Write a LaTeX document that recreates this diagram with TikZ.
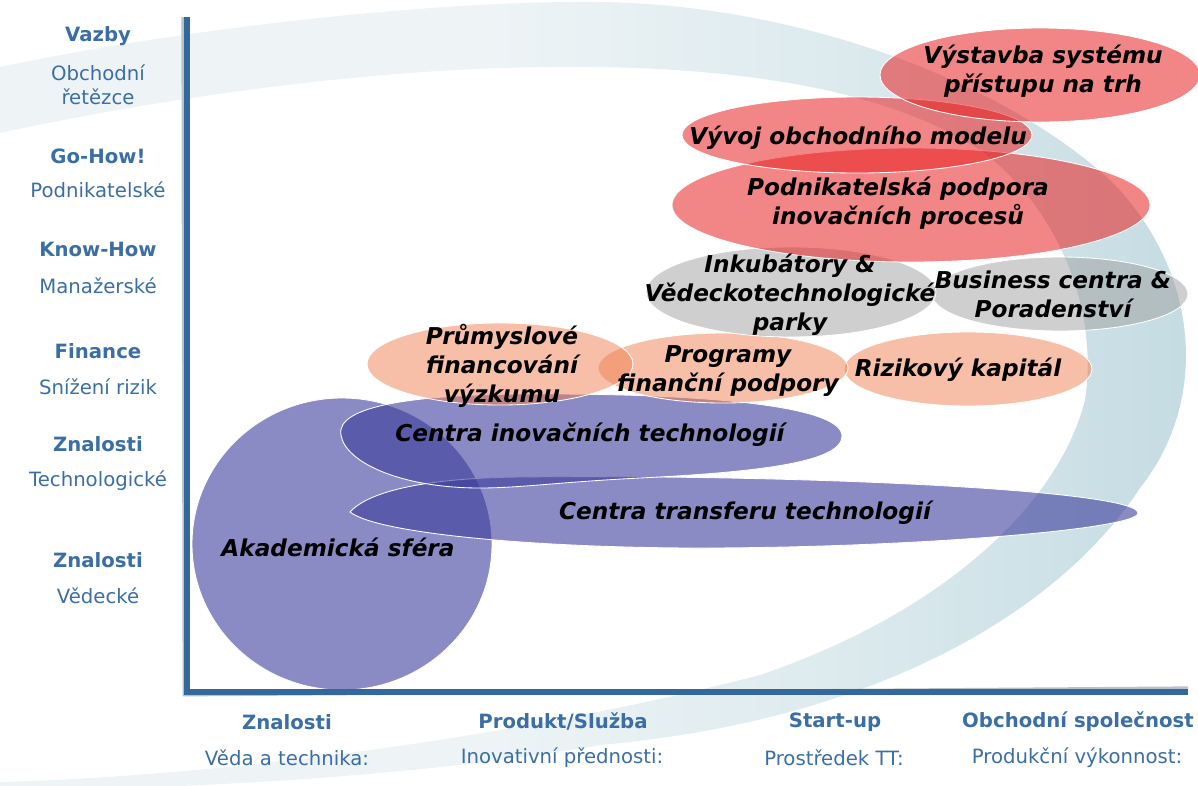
\documentclass[tikz,border=0pt]{standalone}
\usepackage{fontspec}
\setmainfont{DejaVu Sans}
\usetikzlibrary{positioning}
\definecolor{AxisBlue}{HTML}{35689A}
\definecolor{AxisShadow}{HTML}{B8C2CC}
\definecolor{LabelBlue}{HTML}{3A6EA5}
\definecolor{SwooshDark}{HTML}{C3DBE2}
\definecolor{SwooshMid}{HTML}{DCEAEE}
\definecolor{SwooshLight}{HTML}{EEF4F6}
\definecolor{BlobBlue}{HTML}{3C3C9C}
\definecolor{BlobRed}{HTML}{E82020}
\definecolor{BlobPeach}{HTML}{F08050}
\definecolor{BlobGrey}{HTML}{A0A0A0}
\pgfdeclarehorizontalshading{swooshfade}{100bp}{color(0bp)=(SwooshLight); color(25bp)=(SwooshLight); color(45bp)=(SwooshLight); color(60bp)=(SwooshMid); color(75bp)=(SwooshDark); color(100bp)=(SwooshDark)}
\newcommand{\axfont}{\fontsize{14}{17}\selectfont}
\newcommand{\blobfont}{\fontsize{16.5}{20.5}\selectfont\bfseries\itshape}

\begin{document}
\begin{tikzpicture}[x=0.025cm,y=-0.025cm,
 axhead/.style={font=\axfont\bfseries,text=LabelBlue,align=center},
 axsub/.style={font=\axfont,text=LabelBlue,align=center},
 blobtext/.style={font=\blobfont,text=black,align=center},
 blueblob/.style={fill=BlobBlue,fill opacity=0.6,draw=white,line width=0.6pt},
 redblob/.style={fill=BlobRed,fill opacity=0.55,draw=white,line width=0.6pt},
 peachblob/.style={fill=BlobPeach,fill opacity=0.5,draw=white,line width=0.6pt},
 greyblob/.style={fill=BlobGrey,fill opacity=0.5,draw=white,line width=0.6pt},
 axisline/.style={draw=AxisBlue,line width=4.2pt},
 axisshadow/.style={draw=AxisShadow,line width=2pt}]
\useasboundingbox (0,0) rectangle (1198,785);
\shade[shading=swooshfade]
 (0,67) .. controls (200,25) and (450,0) .. (600,2)
 .. controls (800,5) and (1000,80) .. (1110,180)
 .. controls (1200,270) and (1210,400) .. (1140,488)
 .. controls (1060,610) and (880,720) .. (600,745)
 .. controls (400,780) and (150,790) .. (0,790) -- (0,782)
 .. controls (250,775) and (550,730) .. (760,675)
 .. controls (950,610) and (1060,500) .. (1085,400)
 .. controls (1100,300) and (1050,200) .. (980,150)
 .. controls (880,85) and (720,65) .. (550,67)
 .. controls (400,68) and (200,90) .. (0,133) -- cycle;

\path[blueblob] (342,544) ellipse (150 and 146);
\path[blueblob] (350,512) .. controls (370,490) and (430,478) .. (520,477)
 .. controls (800,474) and (1138,490) .. (1138,513)
 .. controls (1138,530) and (900,548) .. (700,548)
 .. controls (550,548) and (380,535) .. (350,512) -- cycle;
\path[blueblob] (341,435) .. controls (335,405) and (420,395) .. (520,394)
 .. controls (700,393) and (842,405) .. (842,436)
 .. controls (842,462) and (760,472) .. (640,478)
 .. controls (560,482) and (520,488) .. (480,488)
 .. controls (400,488) and (345,462) .. (341,435) -- cycle;
\path[peachblob] (968,369) ellipse (124 and 37);
\path[peachblob] (723,368) ellipse (125 and 35);
\path[peachblob] (500,364) ellipse (133 and 41);
\path[greyblob] (1060,294) ellipse (128 and 37);
\path[greyblob] (791,292) ellipse (145 and 45);
\path[redblob] (911,205) ellipse (239 and 57);
\path[redblob] (857,135) ellipse (175 and 38);
\path[redblob] (1040,75) ellipse (160 and 47);

\coordinate (ytop) at (187,17);
\coordinate (orig) at (187,692);
\coordinate (xend) at (1188,692);
\draw[axisshadow] ([xshift=-3]ytop) -- ([shift={(-3,3)}]orig) -- ([yshift=3]xend);
\draw[axisline] (ytop) -- (orig) -- (xend);

\node[blobtext] (akad) at (338,547) {Akademická sféra};
\node[blobtext] (transfer) at (745,513) {Centra transferu technologií};
\node[blobtext] (inovace) at (590,435) {Centra inovačních technologií};
\node[blobtext] (prumysl) at (502,366) {Průmyslové\\financování\\výzkumu};
\node[blobtext] (programy) at (728,371) {Programy\\finanční podpory};
\node[blobtext] (riziko) at (958,370) {Rizikový kapitál};
\node[blobtext] (inkubator) at (790,295) {Inkubátory \&\\Vědeckotechnologické\\parky};
\node[blobtext] (business) at (1053,294) {Business centra \&\\Poradenství};
\node[blobtext] (podpora) at (898,203) {Podnikatelská podpora\\inovačních procesů};
\node[blobtext] (model) at (858,138) {Vývoj obchodního modelu};
\node[blobtext] (trh) at (1043,71) {Výstavba systému\\přístupu na trh};

\node[axhead] (vazby) at (98,36) {Vazby};
\node[axsub] (retezce) at (98,85) {Obchodní\\řetězce};
\node[axhead] (gohow) at (98,156) {Go-How!};
\node[axsub] (podnik) at (98,190) {Podnikatelské};
\node[axhead] (knowhow) at (98,249) {Know-How};
\node[axsub] (manazer) at (98,286) {Manažerské};
\node[axhead] (finance) at (98,351) {Finance};
\node[axsub] (riziko2) at (98,387) {Snížení rizik};
\node[axhead] (znaltech) at (98,444) {Znalosti};
\node[axsub] (technol) at (98,481) {Technologické};
\node[axhead] (znalved) at (98,560) {Znalosti};
\node[axsub] (vedecke) at (98,596) {Vědecké};

\node[axhead] (znalosti) at (287,722) {Znalosti};
\node[axsub] (veda) at (287,758) {Věda a technika:};
\node[axhead] (produkt) at (563,722) {Produkt/Služba};
\node[axsub] (prednosti) at (562,758) {Inovativní přednosti:};
\node[axhead] (startup) at (835,722) {Start-up};
\node[axsub] (prostredek) at (834,758) {Prostředek TT:};
\node[axhead] (spolecnost) at (1078,722) {Obchodní společnost};
\node[axsub] (vykonnost) at (1077,758) {Produkční výkonnost:};
\end{tikzpicture}
\end{document}
